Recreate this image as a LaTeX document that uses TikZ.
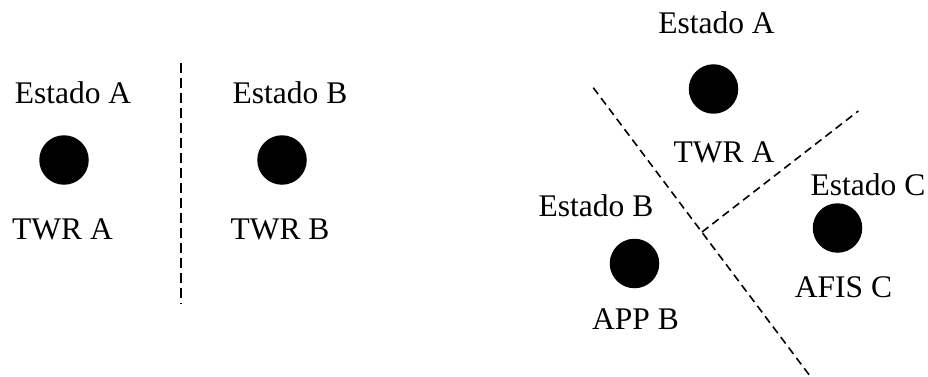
\documentclass[tikz,border=0pt]{standalone}
\usepackage{fontspec}
\setmainfont{Liberation Serif}
\begin{document}
\begin{tikzpicture}[x=1pt,y=-1pt,
  dot/.style={circle,fill=black,draw=none,inner sep=0pt,minimum size=49.5pt},
  lbl/.style={anchor=base,inner sep=0pt,font=\fontsize{31.5}{36}\selectfont},
  sepv/.style={line width=1.6pt,dash pattern=on 10pt off 5pt},
  sepd/.style={line width=1.6pt,dash pattern=on 8pt off 5pt}]
\useasboundingbox (0,0) rectangle (928,377);
% left panel
\node[dot] (dA1) at (64,160) {};
\node[lbl] (eA1) at (73,103) {Estado A};
\node[lbl] (tA1) at (62.5,239) {TWR A};
\coordinate (v1) at (181,63);
\coordinate (v2) at (181,304);
\draw[sepv] (v1) -- (v2);
\node[dot] (dB1) at (282,160) {};
\node[lbl] (eB1) at (290,103) {Estado B};
\node[lbl] (tB1) at (280,239) {TWR B};
% right panel
\node[dot] (dA2) at (713.5,89) {};
\node[lbl] (eA2) at (716.5,34) {Estado A};
\node[lbl] (tA2) at (724,162) {TWR A};
\node[dot] (dB2) at (634.5,263.5) {};
\node[lbl] (eB2) at (596,216) {Estado B};
\node[lbl] (tB2) at (635.5,329) {APP B};
\node[dot] (dC2) at (837.5,228) {};
\node[lbl] (eC2) at (868,195) {Estado C};
\node[lbl] (tC2) at (843.5,297) {AFIS C};
\coordinate (l1) at (593.3,87.7);
\coordinate (l2) at (810,376);
\coordinate (j) at (702,232);
\coordinate (s2) at (858.3,111);
\draw[sepd] (l1) -- (l2);
\draw[sepd] (j) -- (s2);
\end{tikzpicture}
\end{document}
